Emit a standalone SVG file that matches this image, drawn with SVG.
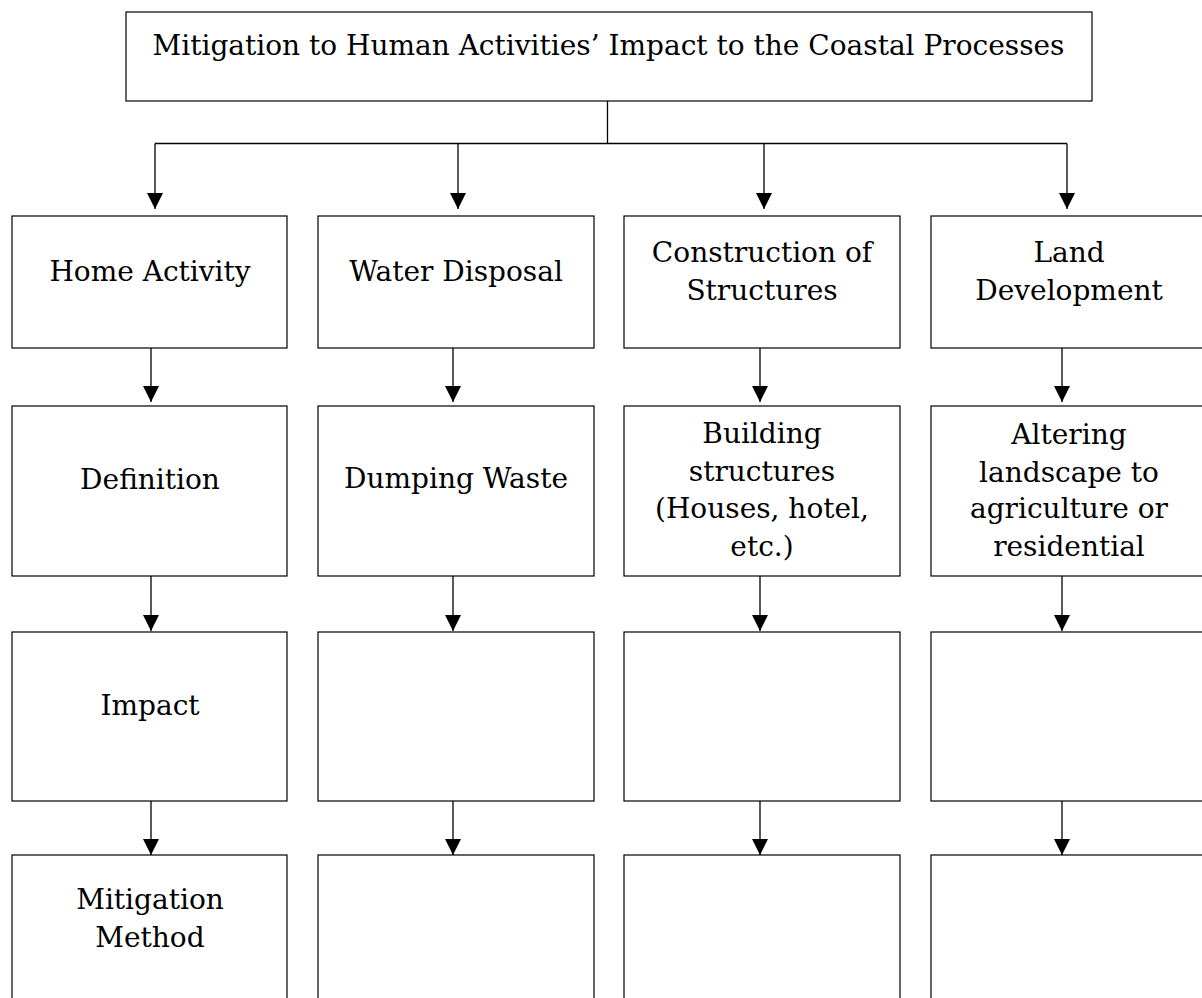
<svg xmlns="http://www.w3.org/2000/svg" width="1202" height="998" viewBox="0 0 1202 998">
<style>
.box{fill:#fff;stroke:#000;stroke-width:1.2}
.lbl{font-family:"DejaVu Serif","Liberation Serif",serif;font-size:28px;fill:#000;text-anchor:middle}
.ln{fill:none;stroke:#000;stroke-width:1.3}
</style>
<defs>
<marker id="ah" viewBox="0 0 16 16" refX="16" refY="8" markerWidth="16" markerHeight="16" markerUnits="userSpaceOnUse" orient="auto">
<path d="M0,0 L16,8 L0,16 z" fill="#000"/>
</marker>
</defs>
<rect width="1202" height="998" fill="#fff"/>
<g id="connectors">
<path class="ln" d="M607.5,101 V143.5 M155,143.5 H1067"/>
<path class="ln" d="M155,143.5 V209" marker-end="url(#ah)"/>
<path class="ln" d="M458,143.5 V209" marker-end="url(#ah)"/>
<path class="ln" d="M764,143.5 V209" marker-end="url(#ah)"/>
<path class="ln" d="M1067,143.5 V209" marker-end="url(#ah)"/>
<path class="ln" d="M151,348 V402" marker-end="url(#ah)"/>
<path class="ln" d="M453,348 V402" marker-end="url(#ah)"/>
<path class="ln" d="M760,348 V402" marker-end="url(#ah)"/>
<path class="ln" d="M1062,348 V402" marker-end="url(#ah)"/>
<path class="ln" d="M151,576 V631" marker-end="url(#ah)"/>
<path class="ln" d="M453,576 V631" marker-end="url(#ah)"/>
<path class="ln" d="M760,576 V631" marker-end="url(#ah)"/>
<path class="ln" d="M1062,576 V631" marker-end="url(#ah)"/>
<path class="ln" d="M151,801 V855" marker-end="url(#ah)"/>
<path class="ln" d="M453,801 V855" marker-end="url(#ah)"/>
<path class="ln" d="M760,801 V855" marker-end="url(#ah)"/>
<path class="ln" d="M1062,801 V855" marker-end="url(#ah)"/>
</g>
<g id="title"><rect class="box" x="126" y="12" width="966" height="89"/><text class="lbl" x="608.5" y="55">Mitigation to Human Activities’ Impact to the Coastal Processes</text></g>
<g id="home-activity"><rect class="box" x="12" y="216" width="275" height="132"/><text class="lbl" x="150" y="281">Home Activity</text></g>
<g id="water-disposal"><rect class="box" x="318" y="216" width="276" height="132"/><text class="lbl" x="456" y="281">Water Disposal</text></g>
<g id="construction"><rect class="box" x="624" y="216" width="276" height="132"/><text class="lbl" x="762" y="262">Construction of</text><text class="lbl" x="762" y="299.5">Structures</text></g>
<g id="land-development"><rect class="box" x="931" y="216" width="276" height="132"/><text class="lbl" x="1069" y="262">Land</text><text class="lbl" x="1069" y="299.5">Development</text></g>
<g id="definition"><rect class="box" x="12" y="406" width="275" height="170"/><text class="lbl" x="150" y="489">Definition</text></g>
<g id="dumping-waste"><rect class="box" x="318" y="406" width="276" height="170"/><text class="lbl" x="456" y="488">Dumping Waste</text></g>
<g id="building-structures"><rect class="box" x="624" y="406" width="276" height="170"/><text class="lbl" x="762" y="443">Building</text><text class="lbl" x="762" y="480.5">structures</text><text class="lbl" x="762" y="518">(Houses, hotel,</text><text class="lbl" x="762" y="555.5">etc.)</text></g>
<g id="altering-landscape"><rect class="box" x="931" y="406" width="276" height="170"/><text class="lbl" x="1069" y="444">Altering</text><text class="lbl" x="1069" y="481.5">landscape to</text><text class="lbl" x="1069" y="518">agriculture or</text><text class="lbl" x="1069" y="555.5">residential</text></g>
<g id="impact-1"><rect class="box" x="12" y="632" width="275" height="169"/><text class="lbl" x="150" y="715">Impact</text></g>
<g id="impact-2"><rect class="box" x="318" y="632" width="276" height="169"/></g>
<g id="impact-3"><rect class="box" x="624" y="632" width="276" height="169"/></g>
<g id="impact-4"><rect class="box" x="931" y="632" width="276" height="169"/></g>
<g id="mitigation-1"><rect class="box" x="12" y="855" width="275" height="160"/><text class="lbl" x="150" y="909">Mitigation</text><text class="lbl" x="150" y="946.5">Method</text></g>
<g id="mitigation-2"><rect class="box" x="318" y="855" width="276" height="160"/></g>
<g id="mitigation-3"><rect class="box" x="624" y="855" width="276" height="160"/></g>
<g id="mitigation-4"><rect class="box" x="931" y="855" width="276" height="160"/></g>
</svg>
